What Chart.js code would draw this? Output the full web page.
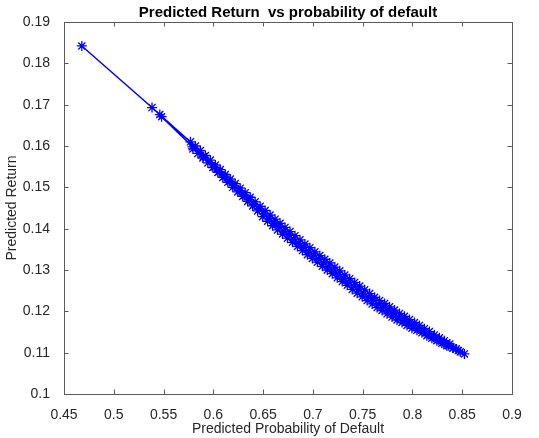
<!DOCTYPE html>
<html lang="en">
<head>
  <meta charset="UTF-8">
  <title>Predicted Return vs probability of default</title>
  <script src="https://cdn.jsdelivr.net/npm/chart.js"></script>
  <style>
    body { margin: 0; background: #fff; }
  </style>
</head>
<body>
  <canvas id="grafico" width="539" height="438"></canvas>

<script>
  // one pass down the upper edge with scatter below it,
  // then a pass back up through the middle of the band
  const probDefault = [
    0.4679, 0.5384, 0.5462,
    0.5770, 0.5795, 0.5820, 0.5845, 0.5870, 0.5895, 0.5920, 0.5945, 0.5970, 0.5995,
    0.6020, 0.6045, 0.6070, 0.6095, 0.6120, 0.6145, 0.6170, 0.6195, 0.6220, 0.6245,
    0.6270, 0.6295, 0.6320, 0.6345, 0.6370, 0.6395, 0.6420, 0.6445, 0.6470, 0.6495,
    0.6520, 0.6545, 0.6570, 0.6595, 0.6620, 0.6645, 0.6670, 0.6695, 0.6720, 0.6745,
    0.6770, 0.6795, 0.6820, 0.6845, 0.6870, 0.6895, 0.6920, 0.6945, 0.6970, 0.6995,
    0.7020, 0.7045, 0.7070, 0.7095, 0.7120, 0.7145, 0.7170, 0.7195, 0.7220, 0.7245,
    0.7270, 0.7295, 0.7320, 0.7345, 0.7370, 0.7395, 0.7420, 0.7445, 0.7470, 0.7495,
    0.7520, 0.7545, 0.7570, 0.7595, 0.7620, 0.7645, 0.7670, 0.7695, 0.7720, 0.7745,
    0.7770, 0.7795, 0.7820, 0.7845, 0.7870, 0.7895, 0.7920, 0.7945, 0.7970, 0.7995,
    0.8020, 0.8045, 0.8070, 0.8095, 0.8120, 0.8145, 0.8170, 0.8195, 0.8220, 0.8245,
    0.8270, 0.8295, 0.8320, 0.8345, 0.8375, 0.8405, 0.8440, 0.8480, 0.8522,
    0.846, 0.841, 0.836, 0.831, 0.826, 0.821, 0.816, 0.811, 0.806, 0.801,
    0.796, 0.791, 0.786, 0.781, 0.776, 0.771, 0.766, 0.761, 0.756, 0.751,
    0.746, 0.741, 0.736, 0.731, 0.726, 0.721, 0.716, 0.711, 0.706, 0.701,
    0.696, 0.691, 0.686, 0.681, 0.676, 0.671, 0.666, 0.661, 0.656, 0.651,
    0.646, 0.641, 0.636, 0.631, 0.626, 0.621, 0.616, 0.611, 0.606, 0.601,
    0.590, 0.579, 0.548
  ];
  const predReturn = [
    0.1842, 0.1693, 0.1676,
    0.1610, 0.1593, 0.1600, 0.1582, 0.1589, 0.1571, 0.1577, 0.1559, 0.1566, 0.1548,
    0.1554, 0.1536, 0.1543, 0.1524, 0.1531, 0.1512, 0.1520, 0.1500, 0.1509, 0.1489,
    0.1498, 0.1478, 0.1487, 0.1466, 0.1476, 0.1455, 0.1465, 0.1443, 0.1454, 0.1429,
    0.1444, 0.1418, 0.1433, 0.1407, 0.1423, 0.1397, 0.1413, 0.1387, 0.1403, 0.1377,
    0.1393, 0.1367, 0.1383, 0.1357, 0.1373, 0.1347, 0.1363, 0.1337, 0.1354, 0.1328,
    0.1344, 0.1319, 0.1335, 0.1309, 0.1326, 0.1300, 0.1317, 0.1291, 0.1307, 0.1281,
    0.1298, 0.1272, 0.1288, 0.1263, 0.1279, 0.1253, 0.1270, 0.1244, 0.1261, 0.1235,
    0.1252, 0.1226, 0.1243, 0.1218, 0.1234, 0.1209, 0.1226, 0.1202, 0.1219, 0.1194,
    0.1211, 0.1186, 0.1203, 0.1179, 0.1195, 0.1173, 0.1188, 0.1166, 0.1180, 0.1159,
    0.1173, 0.1154, 0.1166, 0.1148, 0.1158, 0.1141, 0.1151, 0.1135, 0.1143, 0.1129,
    0.1136, 0.1123, 0.1129, 0.1117, 0.1121, 0.1111, 0.1109, 0.1102, 0.1097,
    0.1105, 0.1111, 0.1117, 0.1124, 0.1131, 0.1137, 0.1144, 0.1151, 0.1157, 0.1164,
    0.1172, 0.1179, 0.1187, 0.1195, 0.1202, 0.1210, 0.1218, 0.1227, 0.1235, 0.1243,
    0.1253, 0.1261, 0.1270, 0.1279, 0.1289, 0.1298, 0.1307, 0.1317, 0.1326, 0.1336,
    0.1345, 0.1355, 0.1364, 0.1374, 0.1385, 0.1394, 0.1405, 0.1414, 0.1425, 0.1436,
    0.1447, 0.1458, 0.1470, 0.1481, 0.1492, 0.1504, 0.1515, 0.1527, 0.1538, 0.1549,
    0.1574, 0.1598, 0.1671
  ];

  const xTicks = [0.45, 0.5, 0.55, 0.6, 0.65, 0.7, 0.75, 0.8, 0.85, 0.9];
  const xTickLabels = ['0.45', '0.5', '0.55', '0.6', '0.65', '0.7', '0.75', '0.8', '0.85', '0.9'];
  const yTicks = [0.1, 0.11, 0.12, 0.13, 0.14, 0.15, 0.16, 0.17, 0.18, 0.19];
  const yTickLabels = ['0.1', '0.11', '0.12', '0.13', '0.14', '0.15', '0.16', '0.17', '0.18', '0.19'];

  const corEixo = '#262626';
  const fonte = "'Liberation Sans', Arial, sans-serif";

  // caixa e ticks para dentro, como no matlab
  const caixaMatlab = {
    id: 'caixaMatlab',
    afterDraw(chart) {
      const ctx = chart.ctx;
      const a = chart.chartArea;
      const sx = chart.scales.x;
      const sy = chart.scales.y;
      const t = 4.5;
      ctx.save();
      ctx.strokeStyle = '#5a5a5a';
      ctx.lineWidth = 1;
      ctx.beginPath();
      xTicks.forEach(v => {
        const px = Math.round(sx.getPixelForValue(v)) + 0.5;
        ctx.moveTo(px, a.bottom); ctx.lineTo(px, a.bottom - t);
        ctx.moveTo(px, a.top); ctx.lineTo(px, a.top + t);
      });
      yTicks.forEach(v => {
        const py = Math.round(sy.getPixelForValue(v)) + 0.5;
        ctx.moveTo(a.left, py); ctx.lineTo(a.left + t, py);
        ctx.moveTo(a.right, py); ctx.lineTo(a.right - t, py);
      });
      ctx.stroke();
      ctx.strokeRect(Math.round(a.left) + 0.5, Math.round(a.top) + 0.5,
        Math.round(a.right - a.left), Math.round(a.bottom - a.top));
      ctx.restore();
    }
  };

  const data = {
    datasets: [{
      label: 'Predicted Return',
      data: probDefault.map((x, i) => ({ x: x, y: predReturn[i] })),
      showLine: true,
      borderColor: '#0000FF',
      backgroundColor: '#0000FF',
      borderWidth: 1.5,
      pointStyle: 'star',
      pointRadius: 5,
      pointBorderWidth: 1.3,
      pointBorderColor: '#0000FF',
      pointHoverRadius: 5
    }]
  };

  const config = {
    type: 'scatter',
    data: data,
    options: {
      responsive: false,
      animation: false,
      layout: { padding: { left: 0, right: 27, top: 0, bottom: 0 } },
      plugins: {
        legend: { display: false },
        tooltip: { enabled: false },
        title: {
          display: true,
          fullSize: false,
          text: 'Predicted Return  vs probability of default',
          color: '#000',
          font: { family: fonte, size: 15, weight: 'bold', lineHeight: 1 },
          padding: { top: 5, bottom: 2 }
        }
      },
      scales: {
        x: {
          type: 'linear',
          min: 0.45,
          max: 0.9,
          afterBuildTicks: s => { s.ticks = xTicks.map(v => ({ value: v })); },
          afterFit: s => { s.height = 44; },
          grid: { display: false },
          border: { display: false },
          ticks: {
            color: corEixo,
            padding: 5,
            maxRotation: 0,
            autoSkip: false,
            font: { family: fonte, size: 14 },
            callback: (v, i) => xTickLabels[i]
          },
          title: {
            display: true,
            text: 'Predicted Probability of Default',
            color: corEixo,
            font: { family: fonte, size: 14 },
            padding: { top: 2, bottom: 0 }
          }
        },
        y: {
          type: 'linear',
          min: 0.1,
          max: 0.19,
          afterBuildTicks: s => { s.ticks = yTicks.map(v => ({ value: v })); },
          afterFit: s => { s.width = 64; },
          grid: { display: false },
          border: { display: false },
          ticks: {
            color: corEixo,
            padding: 6,
            autoSkip: false,
            font: { family: fonte, size: 14 },
            callback: (v, i) => yTickLabels[i]
          },
          title: {
            display: true,
            text: 'Predicted Return',
            color: corEixo,
            font: { family: fonte, size: 14 },
            padding: { top: 4, bottom: 0 }
          }
        }
      }
    },
    plugins: [caixaMatlab]
  };

  const myChart = new Chart(document.getElementById('grafico'), config);
</script>
</body>
</html>
